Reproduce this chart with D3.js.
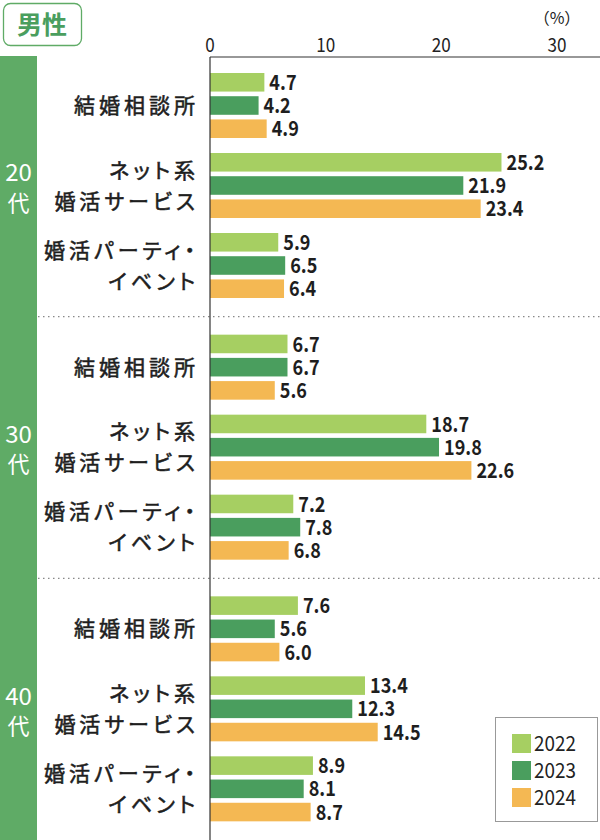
<!DOCTYPE html>
<html>
<head>
<meta charset="utf-8">
<script src="https://cdn.jsdelivr.net/npm/d3@7"></script>
<style>
  body { margin: 0; background: #fff; }
  text { font-family: "Noto Sans CJK JP", "Noto Sans", sans-serif; }
  .cat { font-feature-settings: "palt"; }
</style>
</head>
<body>
<div id="chart"></div>
<script>
// data
var ages = ["20", "30", "40"];
var cats = ["結婚相談所", "ネット系\n婚活サービス", "婚活パーティ・\nイベント"];
var years = ["2022", "2023", "2024"];
var ticks = [0, 10, 20, 30];
// values[age][cat][year]
var v20 = [[4.7, 4.2, 4.9], [25.2, 21.9, 23.4], [5.9, 6.5, 6.4]];
var v30 = [[6.7, 6.7, 5.6], [18.7, 19.8, 22.6], [7.2, 7.8, 6.8]];
var v40 = [[7.6, 5.6, 6.0], [13.4, 12.3, 14.5], [8.9, 8.1, 8.7]];
var values = [v20, v30, v40];

var colors = { "2022": "#a6cf62", "2023": "#4a9e5e", "2024": "#f4b853" };
var bandGreen = "#5fab66";

var W = 600, H = 840;
var top0 = 57;

var svg = d3.select("#chart").append("svg")
  .attr("width", W).attr("height", H);

var x = d3.scaleLinear().domain([0, 30]).range([210, 557]);

var yAge = d3.scaleBand().domain(ages).range([top0, H + 2]);
var yCat = d3.scaleBand().domain(cats).range([16, 256]);
var yYear = d3.scaleBand().domain(years).range([0, 65]).paddingInner(0.2);

// title box
svg.append("rect")
  .attr("x", 3.5).attr("y", 3.5).attr("width", 78).attr("height", 42)
  .attr("rx", 7)
  .attr("fill", "#fff").attr("stroke", bandGreen).attr("stroke-width", 1.3);
svg.append("text")
  .attr("x", 42).attr("y", 25).attr("dy", "0.35em")
  .attr("text-anchor", "middle")
  .attr("font-size", 25).attr("font-weight", 700)
  .attr("fill", "#4a9e5e")
  .text("男性");

// left band
svg.append("rect")
  .attr("x", 0).attr("y", top0 - 1).attr("width", 37).attr("height", H - top0 + 1)
  .attr("fill", bandGreen);

// ticks
svg.selectAll(".tick").data(ticks).enter().append("text")
  .attr("transform", d => "translate(" + x(d) + ",52) scale(0.9,1)")
  .attr("text-anchor", "middle")
  .attr("font-family", "Roboto")
  .attr("font-size", 19)
  .attr("fill", "#222")
  .text(d => d);
svg.append("text")
  .attr("x", x(30)).attr("y", 24)
  .attr("text-anchor", "middle")
  .attr("font-size", 16)
  .attr("fill", "#222")
  .text("（%）");

// dotted separators
ages.slice(1).forEach(function(a) {
  svg.append("line")
    .attr("x1", 38).attr("x2", W)
    .attr("y1", yAge(a) - 2).attr("y2", yAge(a) - 2)
    .attr("stroke", "#888").attr("stroke-width", 1.2)
    .attr("stroke-dasharray", "1.5,3.5");
});

ages.forEach(function(a, ai) {
  var g = svg.append("g").attr("transform", "translate(0," + yAge(a) + ")");
  var mid = yAge.bandwidth() / 2 - 1;

  // age label
  g.append("text")
    .attr("x", 18.5).attr("y", mid - 14).attr("dy", "0.35em")
    .attr("text-anchor", "middle")
    .attr("font-family", "Roboto").attr("font-size", 24)
    .attr("fill", "#fff").text(a);
  g.append("text")
    .attr("x", 18.5).attr("y", mid + 16).attr("dy", "0.35em")
    .attr("text-anchor", "middle")
    .attr("font-size", 22)
    .attr("fill", "#fff").text("代");

  cats.forEach(function(c, ci) {
    var cg = g.append("g").attr("transform", "translate(0," + yCat(c) + ")");
    var cmid = 65 / 2;
    var lines = c.split("\n");
    lines.forEach(function(l, li) {
      cg.append("text")
        .attr("class", "cat")
        .attr("x", 199)
        .attr("y", cmid + (li - (lines.length - 1) / 2) * 31)
        .attr("dy", "0.36em")
        .attr("text-anchor", "end")
        .attr("font-size", 21)
        .attr("letter-spacing", 4)
        .attr("fill", "#1e1e1e")
        .attr("stroke", "#1e1e1e").attr("stroke-width", 0.55)
        .text(l);
    });

    var vals = values[ai][ci];
    cg.selectAll(".bar").data(years).enter().append("rect")
      .attr("x", x(0))
      .attr("y", d => yYear(d))
      .attr("width", (d, i) => x(vals[i]) - x(0))
      .attr("height", yYear.bandwidth())
      .attr("fill", d => colors[d]);
    cg.selectAll(".val").data(years).enter().append("text")
      .attr("transform", (d, i) => "translate(" + (x(vals[i]) + 5) + "," +
        (yYear(d) + yYear.bandwidth() / 2) + ") scale(0.86,1)")
      .attr("dy", "0.36em")
      .attr("font-family", "Roboto").attr("font-weight", 700)
      .attr("font-size", 21)
      .attr("fill", "#1e1e1e")
      .text((d, i) => vals[i].toFixed(1));
  });
});

// axis lines
svg.append("line")
  .attr("x1", x(0)).attr("x2", W).attr("y1", top0).attr("y2", top0)
  .attr("stroke", "#333").attr("stroke-width", 1.2);
svg.append("line")
  .attr("x1", x(0)).attr("x2", x(0)).attr("y1", top0).attr("y2", H)
  .attr("stroke", "#333").attr("stroke-width", 1.2);

// legend
var lg = svg.append("g").attr("transform", "translate(495,717)");
lg.append("rect")
  .attr("x", 0.5).attr("y", 0.5).attr("width", 102).attr("height", 104)
  .attr("fill", "#fff").attr("stroke", "#999").attr("stroke-width", 1);
years.forEach(function(yr, i) {
  lg.append("rect")
    .attr("x", 17).attr("y", 17 + i * 27).attr("width", 19).attr("height", 19)
    .attr("fill", colors[yr]);
  lg.append("text")
    .attr("transform", "translate(39," + (26.5 + i * 27) + ") scale(0.9,1)")
    .attr("dy", "0.36em")
    .attr("font-family", "Roboto").attr("font-size", 21)
    .attr("fill", "#222")
    .text(yr);
});
</script>
</body>
</html>
